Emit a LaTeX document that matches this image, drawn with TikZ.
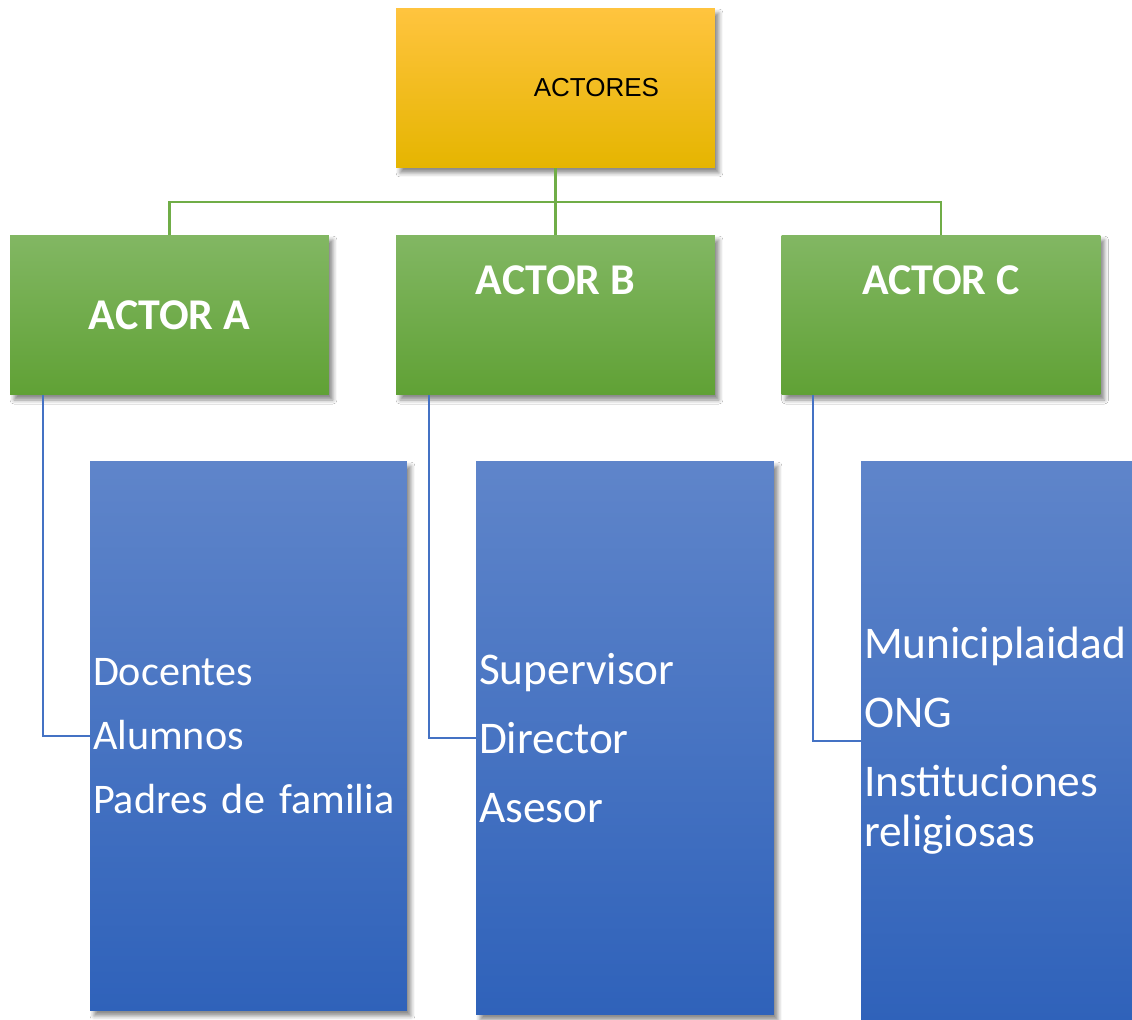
\documentclass[tikz,border=0pt]{standalone}
\usepackage{fontspec}
\setmainfont{Carlito}
\newfontfamily\arialfont{Liberation Sans}
\usetikzlibrary{shadows.blur}
\definecolor{goldtop}{HTML}{FFC43F}
\definecolor{goldmid}{HTML}{FFC000}
\definecolor{goldbot}{HTML}{E5B500}
\definecolor{greentop}{HTML}{82B763}
\definecolor{greenbot}{HTML}{60A135}
\definecolor{bluetop}{HTML}{5F85CA}
\definecolor{bluebot}{HTML}{2F62BA}
\definecolor{greenline}{HTML}{70AD47}
\definecolor{blueline}{HTML}{4472C4}
\tikzset{
	boxshadow/.style={blur shadow={shadow xshift=0.08cm, shadow yshift=-0.1cm,
		shadow blur radius=0.08cm, shadow opacity=45}}
}
\begin{document}
\begin{tikzpicture}[x=0.02cm, y=-0.02cm]
		\clip (0,0) rectangle (1132,1019);
		\fill[white] (0,0) rectangle (1132,1019);
		% top box
		\begin{scope}[every node/.style={boxshadow, top color=goldtop, middle color=goldmid, bottom color=goldbot,
				minimum width=6.38cm, minimum height=3.2cm, inner xsep=1.12cm, text width=4.14cm, align=right,
				font=\arialfont\fontsize{14.8}{17}\selectfont}]
			\node (actores) at (555.5,88) {ACTORES};
		\end{scope}
		% actor boxes
		\begin{scope}[every node/.style={boxshadow, top color=greentop, bottom color=greenbot,
				minimum width=6.38cm, minimum height=3.2cm, text=white, inner sep=0pt,
				font=\bfseries\fontsize{25}{30}\selectfont}]
			\node (actA) at (169.5,315) {ACTOR A};
			\node (actB)[text depth=1.4cm] at (555.5,315) {ACTOR B};
			\node (actC)[text depth=1.4cm] at (941,315) {ACTOR C};
		\end{scope}
		% member lists
		\begin{scope}[every node/.style={boxshadow, top color=bluetop, bottom color=bluebot,
				text=white, inner xsep=0.06cm, inner ysep=0pt, align=left,
				font=\fontsize{25.8}{28.5}\selectfont}]
			\node (listA)[text width=6.22cm, minimum height=11cm, font=\fontsize{24}{27.5}\selectfont] at (248.5,736)
				{Docentes\\[0.31cm] Alumnos\\[0.31cm] Padres de familia};
			\node (listB)[text width=5.84cm, minimum height=11.08cm] at (625,738)
				{Supervisor\\[0.38cm] Director\\[0.38cm] Asesor};
			\node (listC)[text width=5.86cm, minimum height=11.2cm] at (1010.5,741)
				{Municiplaidad\\[0.38cm] ONG\\[0.38cm] Instituciones\\ religiosas};
		\end{scope}
		\coordinate (bus) at (555.5,202);
		\begin{scope}[every path/.style={draw, line width=1.4pt, greenline}]
			\path (actores.south) -- (actB.north);
			\path (actA.north) |- (bus) -| (actC.north);
		\end{scope}
		\begin{scope}[every path/.style={draw, line width=1.1pt, blueline}]
			\path ([xshift=0.66cm]actA.south west) |- (listA.west);
			\path ([xshift=0.66cm]actB.south west) |- (listB.west);
			\path ([xshift=0.64cm]actC.south west) |- (listC.west);
		\end{scope}
	\end{tikzpicture}
\end{document}
